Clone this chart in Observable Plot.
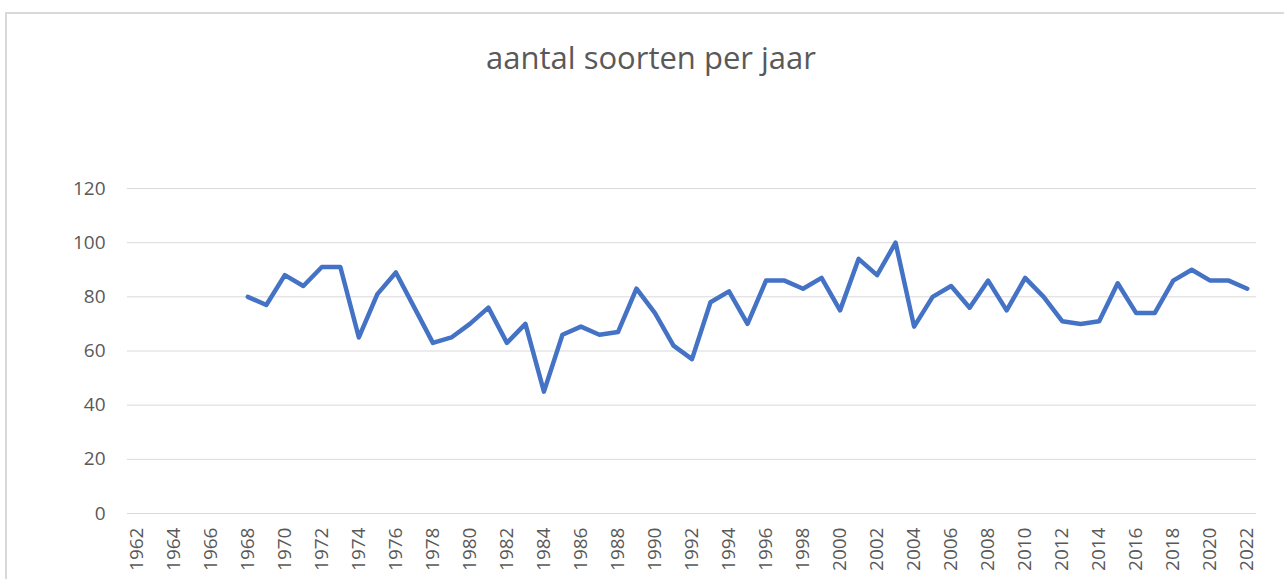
<!DOCTYPE html>
<html>
<head>
<meta charset="utf-8">
<script src="https://cdn.jsdelivr.net/npm/d3@7"></script>
<script src="https://cdn.jsdelivr.net/npm/@observablehq/plot@0.6"></script>
<style>
  html, body { margin: 0; padding: 0; background: #fff; overflow: hidden; }
  #wrap { position: relative; width: 1284px; height: 579px; overflow: hidden; }
  #frame { position: absolute; left: 5px; top: 12px; width: 1300px; height: 620px; border: 2px solid #d9d9d9; box-sizing: border-box; }
  #title { position: absolute; left: 0; width: 1302px; top: 40px; text-align: center;
           font-family: "Open Sans", sans-serif; font-size: 31px; color: #595959; line-height: 34px; }
  #chart { position: absolute; left: 0; top: 0; }
</style>
</head>
<body>
<div id="wrap">
  <div id="frame"></div>
  <div id="title">aantal soorten per jaar</div>
  <div id="chart"></div>
</div>
<script>
const years = d3.range(1962, 2023);
const counts = [
  null, null, null, null, null, null,
  80, 77, 88, 84, 91, 91, 65, 81, 89, 76, 63, 65, 70, 76,
  63, 70, 45, 66, 69, 66, 67, 83, 74, 62, 57, 78, 82, 70,
  86, 86, 83, 87, 75, 94, 88, 100, 69, 80, 84, 76, 86, 75,
  87, 80, 71, 70, 71, 85, 74, 74, 86, 90, 86, 86, 83
];
const yTicks = [0, 20, 40, 60, 80, 100, 120];
const xTicks = years.filter(y => y % 2 === 0);

const data = years.map((year, i) => ({year, count: counts[i]}));

const chart = Plot.plot({
  width: 1284,
  height: 579,
  marginTop: 188,
  marginBottom: 66,
  marginLeft: 127,
  marginRight: 28,
  style: {background: "transparent", fontFamily: "'Open Sans', sans-serif", color: "#595959"},
  x: {type: "point", domain: years, padding: 0.5},
  y: {domain: [0, 120]},
  marks: [
    Plot.gridY(yTicks, {stroke: "#d9d9d9", strokeOpacity: 1, strokeWidth: 1}),
    Plot.axisY(yTicks, {tickSize: 0, tickPadding: 22, fontSize: 19, fill: "#595959", label: null}),
    Plot.axisX(xTicks, {tickSize: 0, tickPadding: 14, tickRotate: -90, fontSize: 19, fill: "#595959", label: null, tickFormat: d => String(d)}),
    Plot.line(data, {x: "year", y: "count", stroke: "#4472C4", strokeWidth: 4.5, strokeLinejoin: "round", strokeLinecap: "round"})
  ]
});
document.getElementById("chart").appendChild(chart);
</script>
</body>
</html>
